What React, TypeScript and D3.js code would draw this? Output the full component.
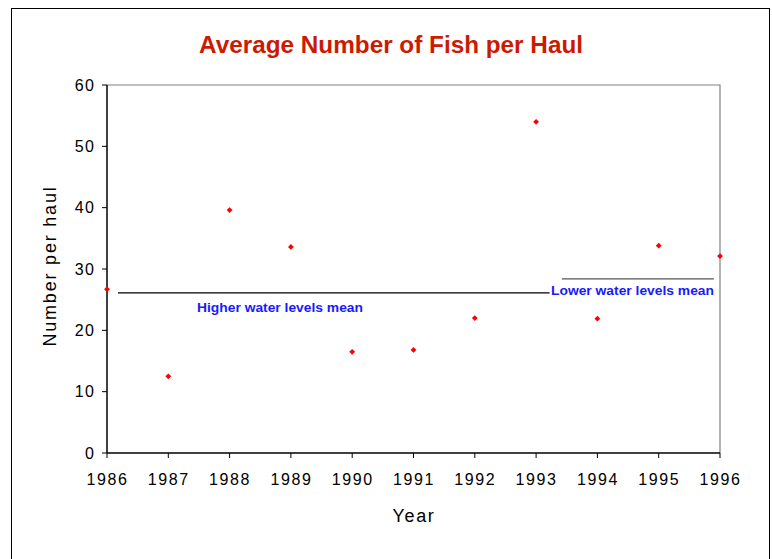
import React from 'react';
import * as d3 from 'd3';

const years = [1986, 1987, 1988, 1989, 1990, 1991, 1992, 1993, 1994, 1995, 1996];
const fishPerHaul = [26.7, 12.5, 39.6, 33.6, 16.5, 16.8, 22.0, 54.0, 21.9, 33.8, 32.1];
const yTicks = [0, 10, 20, 30, 40, 50, 60];

// mean lines: label, value, from year, to year
const highMean = { label: 'Higher water levels mean', value: 26.1, x0: 1986.18, x1: 1993.22 };
const lowMean = { label: 'Lower water levels mean', value: 28.4, x0: 1993.42, x1: 1995.9 };

const W = 772;
const H = 559;
const margin = { top: 85, right: 52, bottom: 106, left: 107 };

const App = () => {
  const x = d3.scaleLinear()
    .domain([1986, 1996])
    .range([margin.left, W - margin.right]);
  const y = d3.scaleLinear()
    .domain([0, 60])
    .range([H - margin.bottom, margin.top]);

  const font = 'Arial, "Liberation Sans", sans-serif';
  const marker = d3.symbol().type(d3.symbolSquare).size(17)();

  return (
    <svg width={W} height={H} style={{ position: 'absolute', left: 0, top: 0 }}>
      <rect x={11.5} y={8.5} width={758} height={560} fill="#fff" stroke="#000" strokeWidth={1} />

      <text x={391} y={53} textAnchor="middle" fill="#cc1a00" fontFamily={font}
        fontWeight="bold" fontSize={23.5} textLength={384} lengthAdjust="spacingAndGlyphs">Average Number of Fish per Haul</text>

      {/* plot frame: top & right grey */}
      <path d={`M${x(1986)},${y(60)}H${x(1996)}V${y(0)}`} fill="none" stroke="#808080" strokeWidth={1.2} />

      {/* y axis */}
      <line x1={x(1986)} x2={x(1986)} y1={y(60)} y2={y(0)} stroke="#000" strokeWidth={1.5} />
      {yTicks.map(t => (
        <g key={t}>
          <line x1={x(1986) - 5} x2={x(1986)} y1={y(t)} y2={y(t)} stroke="#000" />
          <text x={x(1986) - 12} y={y(t)} dy="0.35em" textAnchor="end" fontFamily={font}
            fontSize={16} letterSpacing={1.2} fill="#000">{t}</text>
        </g>
      ))}

      {/* x axis */}
      <line x1={x(1986)} x2={x(1996)} y1={y(0)} y2={y(0)} stroke="#000" strokeWidth={1.5} />
      {years.map(yr => (
        <g key={yr}>
          <line x1={x(yr)} x2={x(yr)} y1={y(0)} y2={y(0) + 5} stroke="#000" />
          <text x={x(yr) + 0.5} y={y(0) + 32} textAnchor="middle" fontFamily={font}
            fontSize={16} letterSpacing={1.6} fill="#000">{yr}</text>
        </g>
      ))}

      <text x={414} y={522} textAnchor="middle" fontFamily={font} fontSize={18}
        letterSpacing={1.6} fill="#000">Year</text>
      <text transform="translate(56,266) rotate(-90)" textAnchor="middle" fontFamily={font}
        fontSize={18} letterSpacing={1.8} fill="#000">Number per haul</text>

      {/* mean lines */}
      <line x1={x(highMean.x0)} x2={x(highMean.x1)} y1={y(highMean.value)} y2={y(highMean.value)}
        stroke="#000" strokeWidth={1.2} />
      <line x1={x(lowMean.x0)} x2={x(lowMean.x1)} y1={y(lowMean.value)} y2={y(lowMean.value)}
        stroke="#555" strokeWidth={1.2} />
      <text x={280} y={y(highMean.value) + 19.5} textAnchor="middle" fontFamily={font}
        fontWeight="bold" fontSize={12.5} fill="#1a1aff" textLength={166} lengthAdjust="spacingAndGlyphs">{highMean.label}</text>
      <text x={551} y={y(lowMean.value) + 16.5} fontFamily={font}
        fontWeight="bold" fontSize={12.5} fill="#1a1aff" textLength={163} lengthAdjust="spacingAndGlyphs">{lowMean.label}</text>

      {fishPerHaul.map((v, i) => (
        <path key={years[i]} d={marker ?? ''} transform={`translate(${x(years[i])},${y(v)}) rotate(45)`} fill="#ff0000" />
      ))}
    </svg>
  );
};

export default App;
